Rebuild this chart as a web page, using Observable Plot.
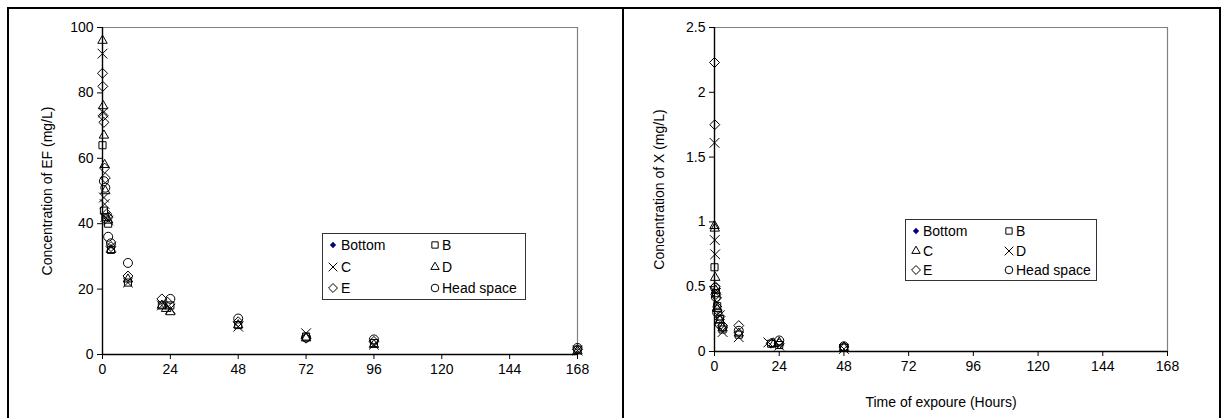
<!DOCTYPE html>
<html><head><meta charset="utf-8">
<script src="https://cdn.jsdelivr.net/npm/d3@7"></script>
<script src="https://cdn.jsdelivr.net/npm/@observablehq/plot@0.6"></script>
<style>
body{margin:0;background:#fff;font-family:"Liberation Sans",Arial,sans-serif;}
#page{position:relative;width:1228px;height:418px;overflow:hidden;background:#fff;}
</style></head><body><div id="page"></div>
<script>
// ---------- data ----------
const xTicks = [0, 24, 48, 72, 96, 120, 144, 168];
const yTicksEF = [0, 20, 40, 60, 80, 100];
const yTicksX = [0, 0.5, 1, 1.5, 2, 2.5];
const seriesNames = ["Bottom", "B", "C", "D", "E", "Head space"];

// Panel 1: EF concentration (mg/L) — [hours, value]
const EF_Bottom = [];
const EF_B = [[0,64],[0.5,44],[1,42],[2,40],[3,32],[9,22],[21,15],[24,15],[48,9],[72,5.5],[96,3.5],[168,1.5]];
const EF_C = [[0,92],[0.25,74],[0.5,48],[0.75,46],[1,42],[2,41],[3,33],[9,22],[21,15],[24,14],[48,8.5],[72,6.5],[96,3],[168,1.2]];
const EF_D = [[0,96],[0.25,76],[0.5,67],[0.75,58],[1,50],[2,41],[3,32],[9,23],[21,15],[22.5,14],[24,13],[48,9],[72,5],[96,3],[168,1]];
const EF_E = [[0,86],[0.1,82],[0.25,73],[0.5,71],[0.75,57],[1,54],[1.5,43],[2,42],[3,33],[9,24],[21,17],[23,16],[48,10],[72,5],[96,4],[168,1.5]];
const EF_Head = [[0.5,53],[1,51],[2,36],[3,34],[9,28],[24,17],[48,11],[72,5.2],[96,4.6],[168,2]];

// Panel 2: X concentration (mg/L) — [hours, value]
const X_Bottom = [];
const X_B = [[0,0.65],[0.5,0.45],[1,0.35],[2,0.25],[3,0.17],[9,0.13],[21,0.06],[24,0.05],[48,0.03]];
const X_C = [[0,0.97],[0.1,0.95],[0.25,0.57],[0.5,0.47],[1,0.33],[2,0.24],[3,0.18],[9,0.14],[22,0.06],[24,0.07],[48,0.03]];
const X_D = [[0,1.61],[0.1,0.86],[0.25,0.75],[0.5,0.45],[1,0.38],[2,0.28],[3,0.15],[9,0.11],[20,0.07],[24,0.045],[48,0.02]];
const X_E = [[0,2.23],[0.1,1.75],[0.25,0.5],[0.5,0.44],[1,0.32],[2,0.27],[3,0.2],[9,0.2],[21,0.064],[24,0.06],[48,0.035]];
const X_Head = [[0.25,0.49],[0.5,0.42],[1,0.3],[2,0.21],[3,0.19],[9,0.16],[24,0.085],[48,0.04]];

// ---------- helpers ----------
const page = document.getElementById("page");
const FONT = "'Liberation Sans', Arial, sans-serif";
const FS = 14;

function toRows(arr){ return arr.map(([t,v]) => ({t, v})); }

function panel({series, symbols, yMax, yTicks, yLabel, xLabel, width, height, margins}){
  const marks = [
    Plot.ruleY([yMax], {stroke:"#808080", strokeWidth:1.2}),
    Plot.ruleX([168], {stroke:"#808080", strokeWidth:1.2}),
    Plot.axisY({ticks:yTicks, tickSize:5, tickPadding:4, fontSize:FS, label:null, tickFormat:d=>String(d)}),
    Plot.axisX({ticks:xTicks, tickSize:5, tickPadding:5, fontSize:FS, label:null, tickFormat:d=>String(d)}),
    Plot.ruleX([0], {stroke:"black", strokeWidth:1.4}),
    Plot.ruleY([0], {stroke:"black", strokeWidth:1.4}),
  ];
  series.forEach((arr, i) => {
    const sym = symbols[i];
    if (sym === "bottom") {
      marks.push(Plot.dot(toRows(arr), {x:"t", y:"v", symbol:"square", rotate:45, r:2.5, fill:"#000080", stroke:"none"}));
    } else {
      marks.push(Plot.dot(toRows(arr), {x:"t", y:"v", symbol:sym, r:4.5, stroke:"black", strokeWidth:1, fill:"none"}));
    }
  });
  marks.push(Plot.text([yLabel], {text:d=>d, frameAnchor:"left", textAnchor:"middle", dx:-55, rotate:-90, fontSize:FS, fill:"black"}));
  if (xLabel) marks.push(Plot.text([xLabel], {text:d=>d, frameAnchor:"bottom", dy:55, fontSize:FS, fill:"black"}));
  return Plot.plot({
    width, height,
    marginLeft:margins[0], marginRight:margins[1], marginTop:margins[2], marginBottom:margins[3],
    style:{fontFamily:FONT, fontSize:FS+"px", color:"black", background:"white", overflow:"visible"},
    x:{domain:[0,168]},
    y:{domain:[0,yMax]},
    marks
  });
}

function place(el, left, top){
  el.style.position = "absolute";
  el.style.left = left + "px";
  el.style.top = top + "px";
  page.appendChild(el);
}

function legend({left, top, w, h, items}){
  const svg = d3.create("svg").attr("width", w).attr("height", h)
    .style("font-family", FONT).style("font-size", FS+"px");
  svg.append("rect").attr("x",0.5).attr("y",0.5).attr("width",w-1).attr("height",h-1)
    .attr("fill","white").attr("stroke","#333").attr("stroke-width",1);
  const types = {square2:d3.symbolSquare2, times:d3.symbolTimes, triangle2:d3.symbolTriangle2,
                 diamond2:d3.symbolDiamond2, circle:d3.symbolCircle, bottom:d3.symbolSquare};
  items.forEach(it => {
    const isB = it.sym === "bottom";
    const r = isB ? 2.5 : (it.sym === "circle" ? 3.8 : 4);
    svg.append("path")
      .attr("transform", `translate(${it.sx},${it.y})` + (isB ? " rotate(45)" : ""))
      .attr("d", d3.symbol().type(types[it.sym]).size(Math.PI*r*r)())
      .attr("fill", isB ? "#000080" : "none")
      .attr("stroke", isB ? "none" : "black").attr("stroke-width", 1);
    svg.append("text").attr("x", it.tx).attr("y", it.y).attr("dy", "0.36em")
      .attr("fill", "black").text(it.label);
  });
  place(svg.node(), left, top);
}

// ---------- panels ----------
const left = panel({
  series:[EF_Bottom, EF_B, EF_C, EF_D, EF_E, EF_Head],
  symbols:["bottom","square2","times","triangle2","diamond2","circle"],
  yMax:100, yTicks:yTicksEF, yLabel:"Concentration of EF (mg/L)", xLabel:null,
  width:615, height:410, margins:[94,46,19,64]
});
place(left, 8, 8);

const right = panel({
  series:[X_Bottom, X_B, X_C, X_D, X_E, X_Head],
  symbols:["bottom","square2","triangle2","times","diamond2","circle"],
  yMax:2.5, yTicks:yTicksX, yLabel:"Concentration of X (mg/L)", xLabel:"Time of expoure (Hours)",
  width:597, height:410, margins:[91,53,19,67]
});
place(right, 623, 8);

// legends
legend({left:322, top:233, w:204, h:67, items:[
  {sym:"bottom", label:seriesNames[0], sx:11, tx:19, y:12},
  {sym:"square2", label:seriesNames[1], sx:113, tx:120, y:12},
  {sym:"times", label:seriesNames[2], sx:11, tx:19, y:34},
  {sym:"triangle2", label:seriesNames[3], sx:113, tx:120, y:34},
  {sym:"diamond2", label:seriesNames[4], sx:11, tx:19, y:55},
  {sym:"circle", label:seriesNames[5], sx:113, tx:120, y:55},
]});
legend({left:905, top:219, w:192, h:62, items:[
  {sym:"bottom", label:seriesNames[0], sx:11, tx:18, y:12},
  {sym:"square2", label:seriesNames[1], sx:104, tx:111, y:12},
  {sym:"triangle2", label:seriesNames[2], sx:11, tx:18, y:32},
  {sym:"times", label:seriesNames[3], sx:104, tx:111, y:32},
  {sym:"diamond2", label:seriesNames[4], sx:11, tx:18, y:51},
  {sym:"circle", label:seriesNames[5], sx:104, tx:111, y:51},
]});

// panel borders
function line(l, t, w, h){
  const d = document.createElement("div");
  d.style.cssText = `position:absolute;left:${l}px;top:${t}px;width:${w}px;height:${h}px;background:black;`;
  page.appendChild(d);
}
line(7, 7, 1214, 2);
line(7, 7, 2, 411);
line(622, 7, 2, 411);
line(1219, 7, 2, 411);
</script></body></html>
